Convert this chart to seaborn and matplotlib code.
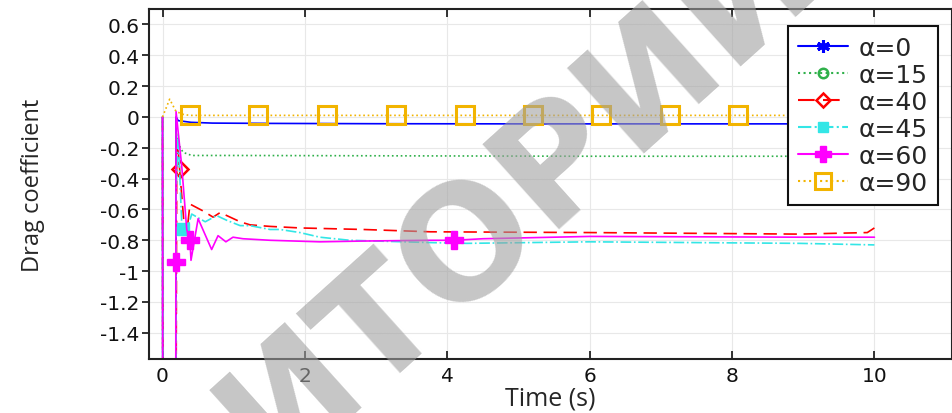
import matplotlib
matplotlib.use("Agg")
import matplotlib.pyplot as plt
from matplotlib.lines import Line2D
import seaborn as sns
import pandas as pd

# ---------------- data ----------------
t_a0 = [0, 0.005, 0.185, 0.19, 0.22, 0.4, 0.7, 1.5, 3, 5, 7, 10]
v_a0 = [0, -3, -3, 0.0, -0.024, -0.035, -0.04, -0.042, -0.044, -0.045, -0.045, -0.045]

t_a15 = [0, 0.005, 0.185, 0.19, 0.25, 0.29, 0.41, 1, 3, 6, 10]
v_a15 = [0, -3, -3, -0.1, -0.2, -0.23, -0.25, -0.25, -0.252, -0.255, -0.255]

t_a40 = [0, 0.005, 0.185, 0.2, 0.23, 0.24, 0.3, 0.34, 0.385, 0.57, 0.71, 0.81, 0.95,
         1.09, 1.23, 1.51, 1.93, 2.82, 3.76, 6.0, 8.95, 9.9, 10]
v_a40 = [0, -3, -3, -0.15, -0.27, -0.34, -0.68, -0.76, -0.565, -0.61, -0.65, -0.62, -0.65,
         -0.68, -0.70, -0.71, -0.72, -0.73, -0.745, -0.75, -0.76, -0.75, -0.72]

t_a45 = [0, 0.005, 0.185, 0.19, 0.22, 0.27, 0.29, 0.34, 0.41, 0.6, 0.76, 0.9, 1.09,
         1.23, 1.51, 1.65, 1.93, 2.21, 2.63, 3.76, 4.27, 6.0, 8.95, 10]
v_a45 = [0, -3, -3, -0.5, -0.12, -0.695, -0.73, -0.74, -0.63, -0.68, -0.64, -0.67, -0.705,
         -0.705, -0.73, -0.73, -0.75, -0.78, -0.80, -0.815, -0.82, -0.81, -0.82, -0.83]

t_a60 = [0, 0.005, 0.185, 0.187, 0.19, 0.27, 0.34, 0.385, 0.40, 0.5, 0.69, 0.78, 0.89,
         0.99, 1.13, 1.51, 2.21, 2.82, 3.76, 4.1, 4.5, 6.0, 8.95, 10]
v_a60 = [0, -3, -3, -0.94, 0.035, -0.32, -0.73, -0.80, -0.93, -0.66, -0.86, -0.77, -0.81,
         -0.78, -0.79, -0.80, -0.81, -0.805, -0.80, -0.80, -0.79, -0.775, -0.78, -0.78]

t_a90 = [0, 0.1, 0.19, 0.3, 0.39, 1.34, 2.31, 3.28, 4.25, 5.2, 6.16, 7.13, 8.08, 9.04, 10]
v_a90 = [0, 0.115, 0.035, 0.015, 0.01, 0.01, 0.01, 0.01, 0.01, 0.01, 0.01, 0.01, 0.01, 0.01, 0.01]

labels = ["α=0", "α=15", "α=40", "α=45", "α=60", "α=90"]

xticks = [0, 2, 4, 6, 8, 10]
xtick_labels = ["0", "2", "4", "6", "8", "10"]
yticks = [0.6, 0.4, 0.2, 0, -0.2, -0.4, -0.6, -0.8, -1, -1.2, -1.4]
ytick_labels = ["0.6", "0.4", "0.2", "0", "-0.2", "-0.4", "-0.6", "-0.8", "-1", "-1.2", "-1.4"]

watermark = "ИТОРИИ"

# ---------------- styles ----------------
styles = [
    dict(color="#0000ff", linestyle="-", marker=(6, 2, 0), mfc="#0000ff", ms=11, mew=2.2, markevery=None),
    dict(color="#2fb04a", linestyle=":", marker="o", mfc="none", ms=8, mew=1.8, markevery=None),
    dict(color="#ff0000", linestyle=(0, (8, 4)), marker="D", mfc="none", ms=8, mew=1.8, markevery=[5]),
    dict(color="#33e6e6", linestyle="-.", marker="s", mfc="#33e6e6", ms=8, mew=1.0, markevery=[6]),
    dict(color="#ff00ff", linestyle="-", marker="P", mfc="#ff00ff", ms=13, mew=1.0, markevery=[3, 7, 19]),
    dict(color="#f2b400", linestyle=":", marker="s", mfc="none", ms=13, mew=2.2,
         markevery=[4, 5, 6, 7, 8, 9, 10, 11, 12, 13]),
]
series = [(t_a0, v_a0), (t_a15, v_a15), (t_a40, v_a40), (t_a45, v_a45), (t_a60, v_a60), (t_a90, v_a90)]

sns.set_theme(style="white")
plt.rcParams["font.family"] = ["DejaVu Sans"]

fig = plt.figure(figsize=(9.52, 4.14), dpi=100)
ax = fig.add_axes([149 / 952, 54 / 414, 803 / 952, 350 / 414])

for (tt, vv), st, lab in zip(series, styles, labels):
    df = pd.DataFrame({"t": tt, "v": vv})
    kw = dict(linewidth=1.2, linestyle=st["linestyle"])
    if st["markevery"] is not None:
        kw.update(marker=st["marker"], markevery=st["markevery"], markersize=st["ms"],
                  markerfacecolor=st["mfc"], markeredgecolor=st["color"], markeredgewidth=st["mew"])
    sns.lineplot(data=df, x="t", y="v", ax=ax, color=st["color"], estimator=None, sort=False,
                 legend=False, **kw)

ax.set_xlim(-0.19, 11.09)
ax.set_ylim(-1.57, 0.70)
ax.set_xticks(xticks)
ax.set_xticklabels(xtick_labels)
ax.set_yticks(yticks)
ax.set_yticklabels(ytick_labels)
ax.grid(True, color="#e8e8e8", linewidth=0.8)
for s in ax.spines.values():
    s.set_color("#222222")
    s.set_linewidth(1.5)
ax.tick_params(axis="x", which="both", direction="in", top=True, bottom=True, length=6,
               width=1.2, labelsize=14.5, pad=5, colors="#111111")
ax.tick_params(axis="y", which="both", direction="out", left=True, length=5, width=1.2,
               labelsize=14.5, pad=2, colors="#111111")

ax.set_xlabel("Time (s)", fontfamily="Open Sans", fontsize=18)
ax.set_ylabel("Drag coefficient", fontfamily="Open Sans", fontsize=17)
ax.xaxis.set_label_coords(0.5, -0.075)
ax.yaxis.set_label_coords(-0.13, 0.5)

handles = []
for st, lab in zip(styles, labels):
    handles.append(Line2D([0], [0], color=st["color"], linestyle=st["linestyle"], linewidth=1.5,
                          marker=st["marker"], markersize=st["ms"] * 0.85, markerfacecolor=st["mfc"],
                          markeredgecolor=st["color"], markeredgewidth=st["mew"]))
leg = ax.legend(handles, labels, loc="upper right", bbox_to_anchor=(938 / 952, 1 - 27 / 414),
                bbox_transform=fig.transFigure, borderaxespad=0, fontsize=18, frameon=True,
                fancybox=False, framealpha=1, edgecolor="#111111", labelspacing=0.12,
                handlelength=2.0, handletextpad=0.45, borderpad=0.4)
leg.get_frame().set_linewidth(1.5)
leg.set_zorder(10)

# watermark
fig.text(520 / 952, 1 - 195 / 414, watermark, fontsize=112, fontweight="bold", color="#a0a0a0",
         alpha=0.6, rotation=42, ha="center", va="center", zorder=20, family="DejaVu Sans")

fig.savefig("out.png", dpi=100)
